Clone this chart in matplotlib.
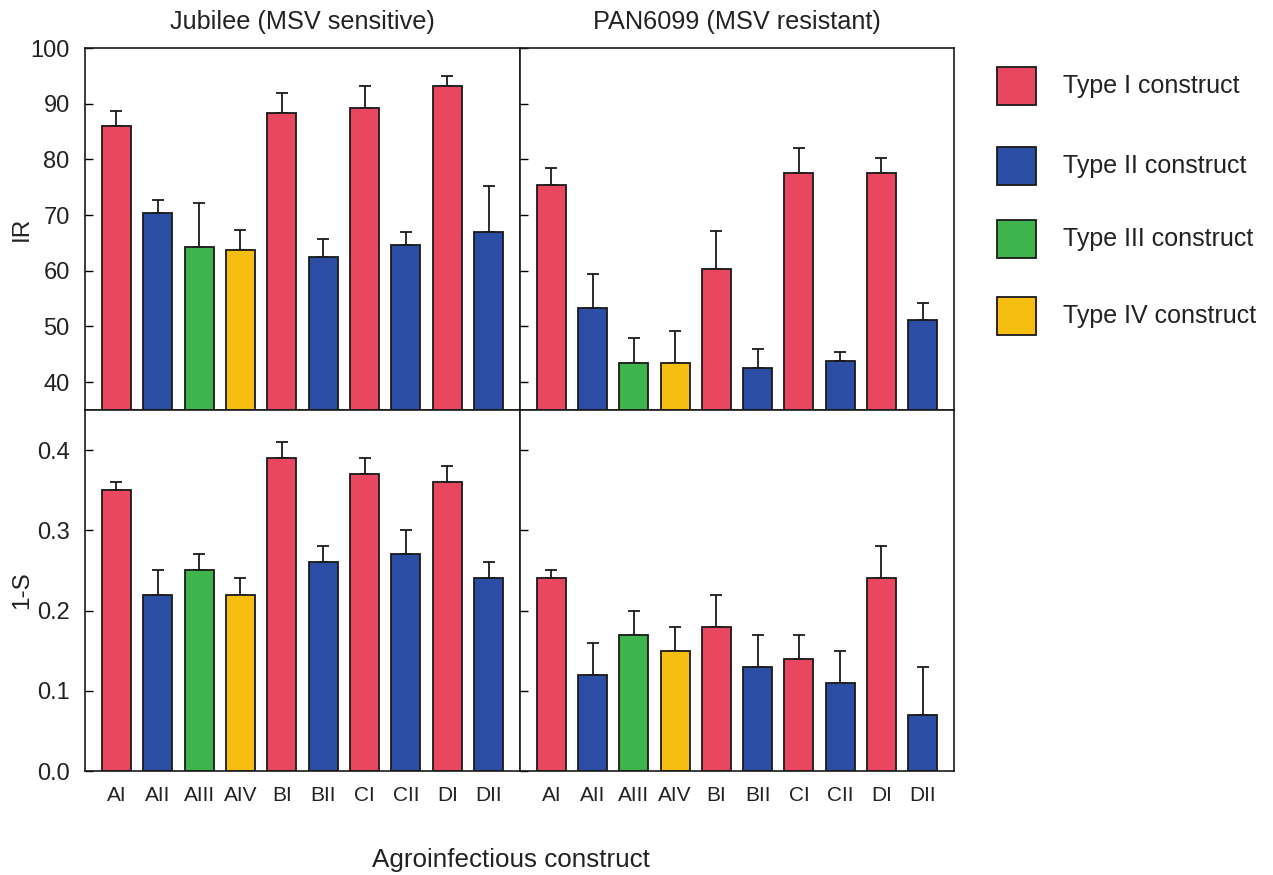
import matplotlib
matplotlib.use("Agg")
import matplotlib.pyplot as plt
from matplotlib.patches import Rectangle
import numpy as np

plt.rcParams['font.family'] = ['Liberation Sans', 'DejaVu Sans']

constructs = ["AI", "AII", "AIII", "AIV", "BI", "BII", "CI", "CII", "DI", "DII"]
ctype = ["I", "II", "III", "IV", "I", "II", "I", "II", "I", "II"]

# IR values
ir_jubilee = [86.0, 70.3, 64.3, 63.7, 88.4, 62.4, 89.2, 64.6, 93.1, 67.0]
ir_jubilee_err = [2.6, 2.4, 7.8, 3.7, 3.6, 3.3, 3.9, 2.3, 1.8, 8.2]
ir_pan = [75.4, 53.3, 43.4, 43.5, 60.4, 42.5, 77.6, 43.8, 77.6, 51.2]
ir_pan_err = [3.0, 6.1, 4.6, 5.6, 6.7, 3.4, 4.4, 1.7, 2.6, 3.1]

# 1-S values
s_jubilee = [0.35, 0.22, 0.25, 0.22, 0.39, 0.26, 0.37, 0.27, 0.36, 0.24]
s_jubilee_err = [0.01, 0.03, 0.02, 0.02, 0.02, 0.02, 0.02, 0.03, 0.02, 0.02]
s_pan = [0.24, 0.12, 0.17, 0.15, 0.18, 0.13, 0.14, 0.11, 0.24, 0.07]
s_pan_err = [0.01, 0.04, 0.03, 0.03, 0.04, 0.04, 0.03, 0.04, 0.04, 0.06]

titles = ["Jubilee (MSV sensitive)", "PAN6099 (MSV resistant)"]
legend_types = ["I", "II", "III", "IV"]
legend_labels = ["Type I construct", "Type II construct", "Type III construct", "Type IV construct"]
type_colors = {"I": "#E8475F", "II": "#2B4DA4", "III": "#3DB54C", "IV": "#F7BE12"}

W, H = 1273, 875
fig = plt.figure(figsize=(W / 100, H / 100), dpi=100)

def rect(x0, y0, x1, y1):
    return [x0 / W, 1 - y1 / H, (x1 - x0) / W, (y1 - y0) / H]

ax_tl = fig.add_axes(rect(85, 48, 520, 410))
ax_tr = fig.add_axes(rect(520, 48, 954, 410))
ax_bl = fig.add_axes(rect(85, 410, 520, 771))
ax_br = fig.add_axes(rect(520, 410, 954, 771))

txt = "#222222"
edge = "#1a1a1a"
x = np.arange(len(constructs))
colors = [type_colors[t] for t in ctype]

def draw(ax, vals, errs, ylim, yticks, show_ylabels, show_xlabels, ticklabels=None):
    ax.bar(x, vals, width=0.70, color=colors, edgecolor=edge, linewidth=1.3, zorder=2)
    ax.errorbar(x, vals, yerr=[np.zeros(len(vals)), errs], fmt="none",
                ecolor=edge, elinewidth=1.3, capsize=4.2, capthick=1.3, zorder=1)
    ax.set_xlim(-0.76, 9.76)
    ax.set_ylim(*ylim)
    ax.set_yticks(yticks)
    ax.tick_params(axis="y", direction="in", length=6, width=1, pad=11,
                   labelsize=17, labelcolor=txt, right=False)
    if show_ylabels:
        if ticklabels is not None:
            ax.set_yticklabels(ticklabels)
    else:
        ax.set_yticklabels([])
    ax.set_xticks(x)
    if show_xlabels:
        ax.set_xticklabels(constructs)
        ax.tick_params(axis="x", length=0, pad=11, labelsize=15, labelcolor=txt)
    else:
        ax.set_xticklabels([])
        ax.tick_params(axis="x", length=0)
    for s in ax.spines.values():
        s.set_linewidth(1.2)
        s.set_color(edge)

ir_ticks = [40, 50, 60, 70, 80, 90, 100]
s_ticks = [0.0, 0.1, 0.2, 0.3, 0.4]
s_ticklabels = ["%.1f" % v for v in s_ticks]

draw(ax_tl, ir_jubilee, ir_jubilee_err, (35, 100), ir_ticks, True, False)
draw(ax_tr, ir_pan, ir_pan_err, (35, 100), ir_ticks, False, False)
draw(ax_bl, s_jubilee, s_jubilee_err, (0, 0.45), s_ticks, True, True, s_ticklabels)
draw(ax_br, s_pan, s_pan_err, (0, 0.45), s_ticks, False, True)

ax_tl.set_title(titles[0], fontsize=18.2, color=txt, pad=14)
ax_tr.set_title(titles[1], fontsize=18.2, color=txt, pad=14)

fig.text(22 / W, 1 - 229 / H, "IR", rotation=90, fontsize=17.5, color=txt, ha="center", va="center")
fig.text(22 / W, 1 - 590 / H, "1-S", rotation=90, fontsize=17.5, color=txt, ha="center", va="center")
fig.text(511 / W, 1 - 860 / H, "Agroinfectious construct", fontsize=18.7, color=txt, ha="center", va="center")

# legend drawn in a pixel-coordinate overlay
leg = fig.add_axes([0, 0, 1, 1])
leg.set_xlim(0, W)
leg.set_ylim(H, 0)
leg.axis("off")
row_top = [67, 147, 220, 297]
for t, lab, yt in zip(legend_types, legend_labels, row_top):
    leg.add_patch(Rectangle((997, yt), 39, 38, facecolor=type_colors[t], edgecolor=edge, linewidth=1.3))
    leg.text(1063, yt + 19, lab, fontsize=18, color=txt, ha="left", va="center")

fig.savefig("out.png", dpi=100)
